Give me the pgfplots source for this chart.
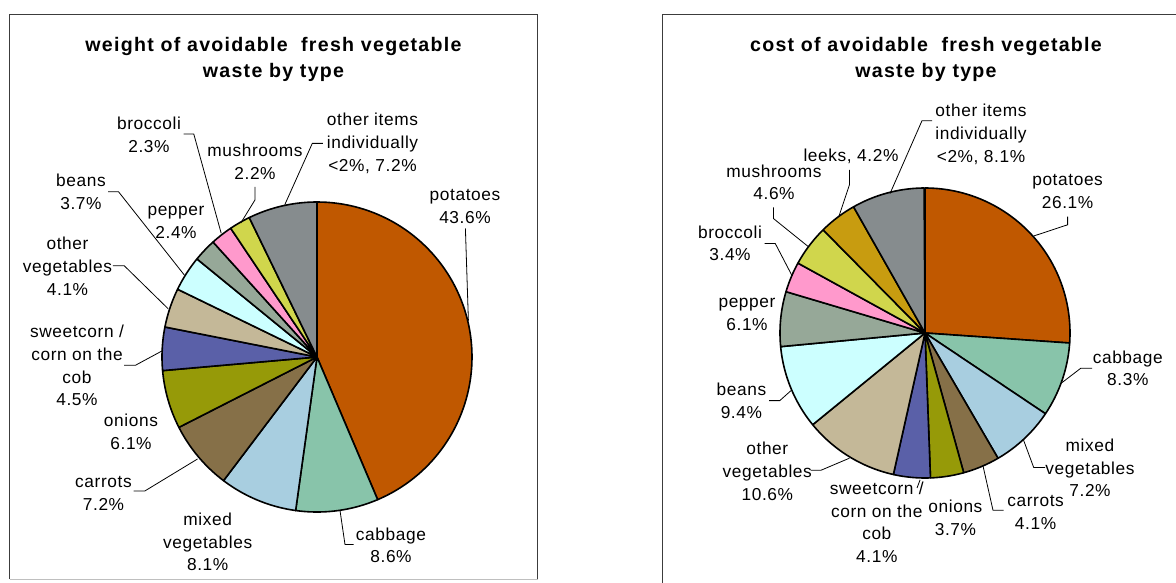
\documentclass[border=0pt]{standalone}
\usepackage{fontspec}
\setmainfont{Liberation Sans}
\newfontfamily\labfont[LetterSpace=3.5]{Liberation Sans}
\newfontfamily\titfont[LetterSpace=6.5]{Liberation Sans}
\usepackage{pgfplots}
\usepackage{pgfplotstable}
\pgfplotsset{compat=1.18}

\definecolor{cPotato}{RGB}{192,88,0}
\definecolor{cCabbage}{RGB}{136,196,170}
\definecolor{cMixed}{RGB}{168,206,224}
\definecolor{cCarrot}{RGB}{134,112,72}
\definecolor{cOnion}{RGB}{150,154,8}
\definecolor{cCorn}{RGB}{90,96,168}
\definecolor{cOtherVeg}{RGB}{196,184,152}
\definecolor{cBeans}{RGB}{204,255,255}
\definecolor{cPepper}{RGB}{150,168,152}
\definecolor{cBroccoli}{RGB}{255,153,204}
\definecolor{cMush}{RGB}{208,214,76}
\definecolor{cLeeks}{RGB}{200,156,16}
\definecolor{cOtherItems}{RGB}{134,140,142}
\definecolor{boxgray}{RGB}{60,60,60}

% weight share (%) of avoidable fresh vegetable waste, clockwise from 12 o'clock
\pgfplotstableread{
pct col
43.6 cPotato
8.6 cCabbage
8.1 cMixed
7.2 cCarrot
6.1 cOnion
4.5 cCorn
4.1 cOtherVeg
3.7 cBeans
2.4 cPepper
2.3 cBroccoli
2.2 cMush
7.2 cOtherItems
}\weightdata

% cost share (%)
\pgfplotstableread{
pct col
26.1 cPotato
8.3 cCabbage
7.2 cMixed
4.1 cCarrot
3.7 cOnion
4.1 cCorn
10.6 cOtherVeg
9.4 cBeans
6.1 cPepper
3.4 cBroccoli
4.6 cMush
4.2 cLeeks
8.1 cOtherItems
}\costdata

\newcommand\cum{0}
% #1 cx, #2 cy, #3 radius, #4 percent, #5 colour
\newcommand\pieslice[5]{%
  \pgfmathsetmacro\pieA{90-3.6*(\cum+#4)}%
  \pgfmathsetmacro\pieB{90-3.6*(\cum)}%
  \edef\doslice{\noexpand\addplot[fill=#5,draw=black,line width=1.6pt,line join=round,domain=\pieA:\pieB,samples=90]({#1+#3*cos(x)},{#2-#3*sin(x)}) -- (axis cs:#1,#2) -- cycle;}%
  \doslice
  \pgfmathsetmacro\cumnew{\cum+#4}%
  \xdef\cum{\cumnew}%
}

\newcommand\lab[3]{\node[anchor=north,align=center,inner sep=0pt,font={\labfont\fontsize{17.3}{22.8}\selectfont}] at (axis cs:#1,#2) {\rule{0pt}{13pt}#3};}
\newcommand\titl[3]{\node[anchor=north,align=center,inner sep=0pt,font={\titfont\bfseries\fontsize{19.6}{26.7}\selectfont}] at (axis cs:#1,#2) {\rule{0pt}{15pt}#3};}

\begin{document}
\begin{tikzpicture}
\begin{axis}[
  at={(0,0)}, anchor=south west,
  scale only axis, width=1176pt, height=583pt,
  xmin=0, xmax=1176, ymin=0, ymax=583, y dir=reverse,
  hide axis, clip=false,
]
% boxes
\draw[boxgray, line width=1pt] (9.5,579) -- (9.5,15) -- (537.5,15) -- (537.5,579);
\draw[black!25, line width=1pt] (9.5,579) -- (537.5,579);
\draw[boxgray, line width=1pt] (662.5,600) -- (662.5,15) -- (1200,15);

% left pie
\xdef\cum{0}
\pgfplotsforeachungrouped \i in {0,...,11}{%
  \pgfplotstablegetelem{\i}{pct}\of\weightdata \let\pct\pgfplotsretval
  \pgfplotstablegetelem{\i}{col}\of\weightdata \let\col\pgfplotsretval
  \pieslice{317}{357}{155}{\pct}{\col}%
}
% right pie
\xdef\cum{0}
\pgfplotsforeachungrouped \i in {0,...,12}{%
  \pgfplotstablegetelem{\i}{pct}\of\costdata \let\pct\pgfplotsretval
  \pgfplotstablegetelem{\i}{col}\of\costdata \let\col\pgfplotsretval
  \pieslice{925}{333}{145}{\pct}{\col}%
}

% titles
\titl{273.5}{36}{weight of avoidable\ \ fresh vegetable\\waste by type}
\titl{926}{36}{cost of avoidable\ \ fresh vegetable\\waste by type}

% left leader lines
\begin{scope}[black, line width=0.8pt]
\draw (465.4,228.5) -- (468.4,320.7);
\draw (340,510.5) -- (345,544.5) -- (353.5,544.5);
\draw (197.5,459) -- (144.8,491) -- (133.6,491);
\draw (163,350.4) -- (135.4,365.3) -- (124.2,365.3);
\draw (168.2,308.8) -- (124.2,265.7) -- (112.9,265.7);
\draw (184.3,275) -- (118.5,191.7) -- (108,191.7);
\draw (221.2,233.3) -- (193.8,134.1) -- (183.6,134.1);
\draw (240.8,223) -- (255,199.9) -- (255,186.9);
\draw (284.8,204.7) -- (312.3,143.4) -- (322.8,143.4);
% right leader lines
\draw (890,193.6) -- (922,120.7) -- (932.1,120.7);
\draw (838.8,216.6) -- (849.4,185) -- (849.4,170);
\draw (808,246.4) -- (773.4,218.5) -- (773.4,207.3);
\draw (792.2,276) -- (775.2,243.4) -- (764.7,243.4);
\draw (1033.7,236) -- (1067.6,224.8) -- (1067.6,216.6);
\draw (1061.5,383) -- (1080.7,368.3) -- (1092,368.3);
\draw (1023.5,440) -- (1033.7,467.5) -- (1045,467.5);
\draw (983,465.9) -- (993,510.3) -- (1003.6,510.3);
\draw (920.1,479.8) -- (917,488);
\draw (849.4,458.2) -- (821.1,470.2) -- (810.6,470.2);
\draw (791,390.6) -- (779.8,400.6) -- (769.2,400.6);
\end{scope}

% left labels
\lab{149}{116.1}{broccoli\\2.3\%}
\lab{255}{143.2}{mushrooms\\2.2\%}
\lab{372.5}{112.5}{other items\\individually\\<2\%, 7.2\%}
\lab{465}{187.7}{potatoes\\43.6\%}
\lab{81}{173.5}{beans\\3.7\%}
\lab{176}{202.5}{pepper\\2.4\%}
\lab{67.5}{236.2}{other\\vegetables\\4.1\%}
\lab{77}{324.3}{sweetcorn /\\corn on the\\cob\\4.5\%}
\lab{131}{413.5}{onions\\6.1\%}
\lab{103.5}{474.1}{carrots\\7.2\%}
\lab{207.7}{512.1}{mixed\\vegetables\\8.1\%}
\lab{391}{526.9}{cabbage\\8.6\%}

% right labels
\lab{981}{103.3}{other items\\individually\\<2\%, 8.1\%}
\lab{851}{148.7}{leeks, 4.2\%}
\lab{774}{163.9}{mushrooms\\4.6\%}
\lab{1067.6}{172.1}{potatoes\\26.1\%}
\lab{730}{224.9}{broccoli\\3.4\%}
\lab{747}{294.1}{pepper\\6.1\%}
\lab{1127.8}{349.8}{cabbage\\8.3\%}
\lab{741.4}{382.2}{beans\\9.4\%}
\lab{767.3}{441.7}{other\\vegetables\\10.6\%}
\lab{1090}{438}{mixed\\vegetables\\7.2\%}
\lab{876.8}{481}{sweetcorn /\\corn on the\\cob\\4.1\%}
\lab{955.4}{499.3}{onions\\3.7\%}
\lab{1035.6}{493}{carrots\\4.1\%}
\end{axis}
\pgfresetboundingbox
\useasboundingbox (0,0) rectangle (1176pt,583pt);
\end{tikzpicture}
\end{document}
